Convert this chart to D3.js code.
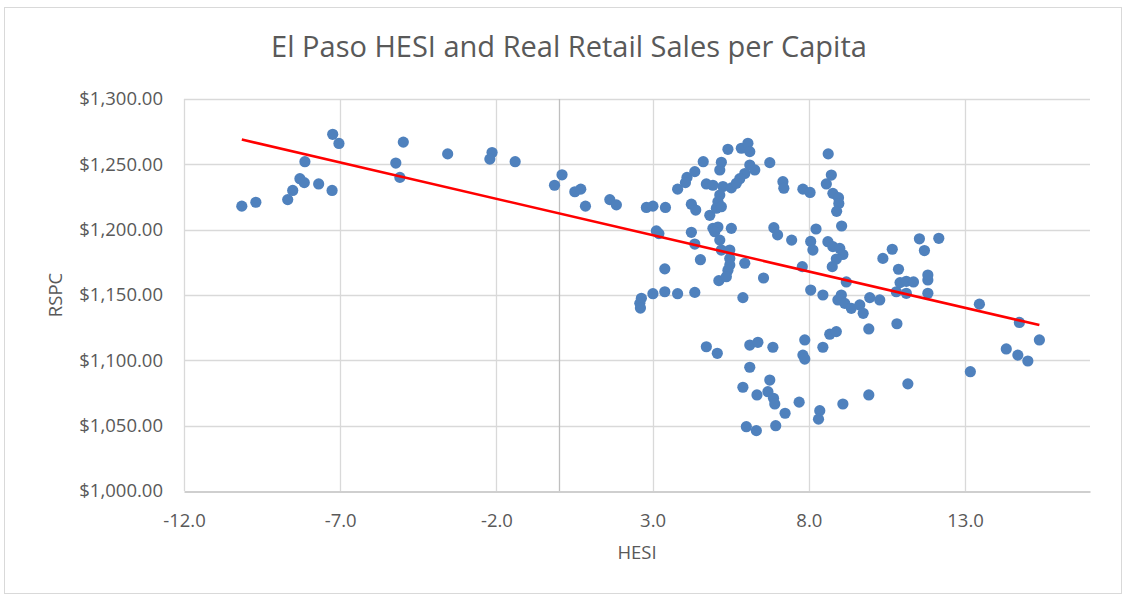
<!DOCTYPE html>
<html>
<head>
<meta charset="utf-8">
<script src="https://cdn.jsdelivr.net/npm/d3@7"></script>
<style>
  body { margin: 0; background: #fff; }
  svg text { font-family: "Open Sans", "Liberation Sans", sans-serif; fill: #595959; }
</style>
</head>
<body>
<div id="chart"></div>
<script>
// HESI index (x) and real retail sales per capita (y)
var hesi = [
  -10.15, -9.70, -8.68, -8.52, -8.29, -8.15, -8.13, -7.69, -7.26, -7.24,
  -7.04, -5.22, -5.09, -4.98, -3.56, -2.14, -2.21, -1.40, -0.14, 0.10,
  0.51, 0.70, 0.85, 1.63, 1.84, 2.80, 3.01, 3.41, 3.12, 3.20,
  3.39, 2.64, 2.59, 2.61, 3.01, 3.39, 3.80, 3.80, 4.10, 4.05,
  4.35, 4.62, 4.24, 4.38, 4.24, 4.35, 4.53, 4.35, 4.72, 4.93,
  4.83, 4.93, 5.09, 4.99, 5.20, 5.15, 5.25, 5.52, 5.15, 5.09,
  5.04, 5.20, 5.52, 5.15, 5.20, 5.47, 5.47, 5.47, 5.41, 5.12,
  5.36, 5.41, 5.84, 6.05, 6.11, 6.11, 6.27, 5.95, 5.79, 5.68,
  6.75, 5.95, 6.55, 5.89, 4.72, 5.07, 6.11, 6.37, 6.85, 6.11,
  5.89, 6.34, 6.75, 6.69, 6.87, 6.91, 7.24, 7.69, 6.00, 6.32,
  6.94, 7.17, 7.20, 6.88, 7.00, 7.45, 7.81, 8.04, 7.79, 8.06,
  8.13, 8.23, 8.62, 8.72, 8.56, 8.77, 8.95, 8.96, 8.89, 9.05,
  8.61, 8.77, 8.99, 9.09, 8.88, 8.75, 9.20, 8.06, 8.45, 9.04,
  8.93, 9.15, 9.36, 9.63, 9.74, 9.95, 10.27, 10.37, 10.67, 10.87,
  10.92, 11.12, 11.35, 10.80, 11.12, 11.81, 11.81, 11.81, 11.54, 11.70,
  12.16, 13.46, 14.74, 15.38, 14.32, 14.69, 15.01, 13.17, 11.17, 9.92,
  9.09, 8.35, 8.31, 7.87, 8.45, 8.67, 8.88, 7.81, 7.87, 9.92,
  10.82
];
var rspc = [
  1218, 1221, 1223, 1230, 1239, 1236, 1252, 1235, 1230, 1273,
  1266, 1251, 1240, 1267, 1258, 1259, 1254, 1252, 1234, 1242,
  1229, 1231, 1218, 1223, 1219, 1217, 1218, 1217, 1199, 1197,
  1170, 1147.5, 1143.6, 1140, 1151, 1152.5, 1151, 1231, 1240, 1236,
  1244.4, 1252, 1219.5, 1215, 1198, 1189, 1177, 1152, 1235, 1234,
  1211, 1201, 1202, 1198.4, 1251.6, 1245.7, 1233, 1232, 1226.5, 1221.4,
  1216.4, 1217.6, 1201, 1192, 1184.4, 1184.4, 1178, 1173, 1169, 1161,
  1164, 1261.5, 1262.3, 1266.1, 1259.7, 1249.5, 1245.7, 1243, 1239, 1235.5,
  1251.3, 1174.3, 1163, 1148, 1110.4, 1105.4, 1111.7, 1113.8, 1110, 1094.7,
  1079.4, 1073.5, 1084.9, 1076, 1071, 1066.6, 1059.5, 1068, 1049.2, 1046.2,
  1050, 1236.7, 1231.7, 1201.5, 1196, 1192, 1231, 1228.5, 1171.7, 1191,
  1184.4, 1200.5, 1258, 1241.8, 1235, 1227.8, 1224.5, 1220, 1214, 1202.8,
  1190.8, 1187, 1185.7, 1181, 1177.5, 1171.7, 1160, 1153.8, 1150, 1150,
  1146.2, 1143.6, 1139.8, 1142.4, 1136, 1148, 1146.2, 1178, 1185, 1169.7,
  1159.5, 1160.5, 1160, 1152.5, 1151.3, 1151.3, 1161.5, 1165.3, 1193, 1184,
  1193.4, 1143, 1129, 1115.6, 1108.7, 1104, 1099.5, 1091.3, 1082, 1073.5,
  1066.6, 1061.5, 1055, 1115.6, 1110, 1120, 1122, 1104, 1101, 1124,
  1128
];

// linear trendline
var trendIntercept = 1212.5;
var trendSlope = -5.56;

var xTicks = [-12, -7, -2, 3, 8, 13];
var yTicks = [1000, 1050, 1100, 1150, 1200, 1250, 1300];
var xDomain = [-12, 17];
var yDomain = [1000, 1300];

var W = 1129, H = 594;
var margin = { left: 184, right: 39, top: 99, bottom: 103 };

// plain hyphen for negatives, like the spreadsheet
var locale = d3.formatLocale({
  decimal: ".", thousands: ",", grouping: [3], currency: ["$", ""], minus: "-"
});

var svg = d3.select("#chart").append("svg")
  .attr("width", W)
  .attr("height", H);

// chart frame
svg.append("rect")
  .attr("x", 4.5).attr("y", 7.5)
  .attr("width", 1117).attr("height", 586)
  .attr("fill", "#fff")
  .attr("stroke", "#d9d9d9");

var x = d3.scaleLinear().domain(xDomain).range([margin.left, W - margin.right]);
var y = d3.scaleLinear().domain(yDomain).range([H - margin.bottom, margin.top]);

// gridlines
svg.append("g").selectAll("line.h")
  .data(yTicks.slice(1))
  .enter().append("line")
  .attr("x1", x(xDomain[0])).attr("x2", x(xDomain[1]))
  .attr("y1", function (d) { return Math.round(y(d)) + 0.5; })
  .attr("y2", function (d) { return Math.round(y(d)) + 0.5; })
  .attr("stroke", "#d9d9d9").attr("stroke-width", 1.3);

svg.append("g").selectAll("line.v")
  .data(xTicks)
  .enter().append("line")
  .attr("y1", y(yDomain[0])).attr("y2", y(yDomain[1]))
  .attr("x1", function (d) { return Math.round(x(d)) + 0.5; })
  .attr("x2", function (d) { return Math.round(x(d)) + 0.5; })
  .attr("stroke", "#d9d9d9").attr("stroke-width", 1.3);

// value axis crossing at x = 0
svg.append("line")
  .attr("x1", Math.round(x(0)) + 0.5).attr("x2", Math.round(x(0)) + 0.5)
  .attr("y1", y(yDomain[0])).attr("y2", y(yDomain[1]))
  .attr("stroke", "#bfbfbf").attr("stroke-width", 1.3);

// bottom axis
var xAxis = d3.axisBottom(x)
  .tickValues(xTicks)
  .tickSize(0)
  .tickPadding(22)
  .tickFormat(locale.format(".1f"));

var gx = svg.append("g")
  .attr("transform", "translate(0," + (Math.round(y(yDomain[0])) + 0.5) + ")")
  .call(xAxis);
gx.select(".domain").attr("stroke", "#bfbfbf").attr("stroke-width", 1.3);
gx.selectAll("text").style("font-size", "18.5px").attr("fill", "#595959");

// left axis labels
var yAxis = d3.axisLeft(y)
  .tickValues(yTicks)
  .tickSize(0)
  .tickPadding(21)
  .tickFormat(locale.format("$,.2f"));

var gy = svg.append("g")
  .attr("transform", "translate(" + x(xDomain[0]) + ",0)")
  .call(yAxis);
gy.select(".domain").remove();
gy.selectAll("text").style("font-size", "18.5px").attr("fill", "#595959");

// points
svg.append("g").selectAll("circle")
  .data(hesi)
  .enter().append("circle")
  .attr("cx", function (d) { return x(d); })
  .attr("cy", function (d, i) { return y(rspc[i]); })
  .attr("r", 5.6)
  .attr("fill", "#4f81bd");

// trendline over the data range
var tx = d3.extent(hesi);
svg.append("line")
  .attr("x1", x(tx[0])).attr("y1", y(trendIntercept + trendSlope * tx[0]))
  .attr("x2", x(tx[1])).attr("y2", y(trendIntercept + trendSlope * tx[1]))
  .attr("stroke", "#ff0000")
  .attr("stroke-width", 2.6);

// title and axis titles
svg.append("text")
  .attr("x", 569).attr("y", 57)
  .attr("text-anchor", "middle")
  .style("font-size", "29px")
  .text("El Paso HESI and Real Retail Sales per Capita");

svg.append("text")
  .attr("x", (x(xDomain[0]) + x(xDomain[1])) / 2).attr("y", 559)
  .attr("text-anchor", "middle")
  .style("font-size", "18.5px")
  .text("HESI");

svg.append("text")
  .attr("transform", "translate(62," + (y(1150)) + ") rotate(-90)")
  .attr("text-anchor", "middle")
  .style("font-size", "18.5px")
  .text("RSPC");
</script>
</body>
</html>
